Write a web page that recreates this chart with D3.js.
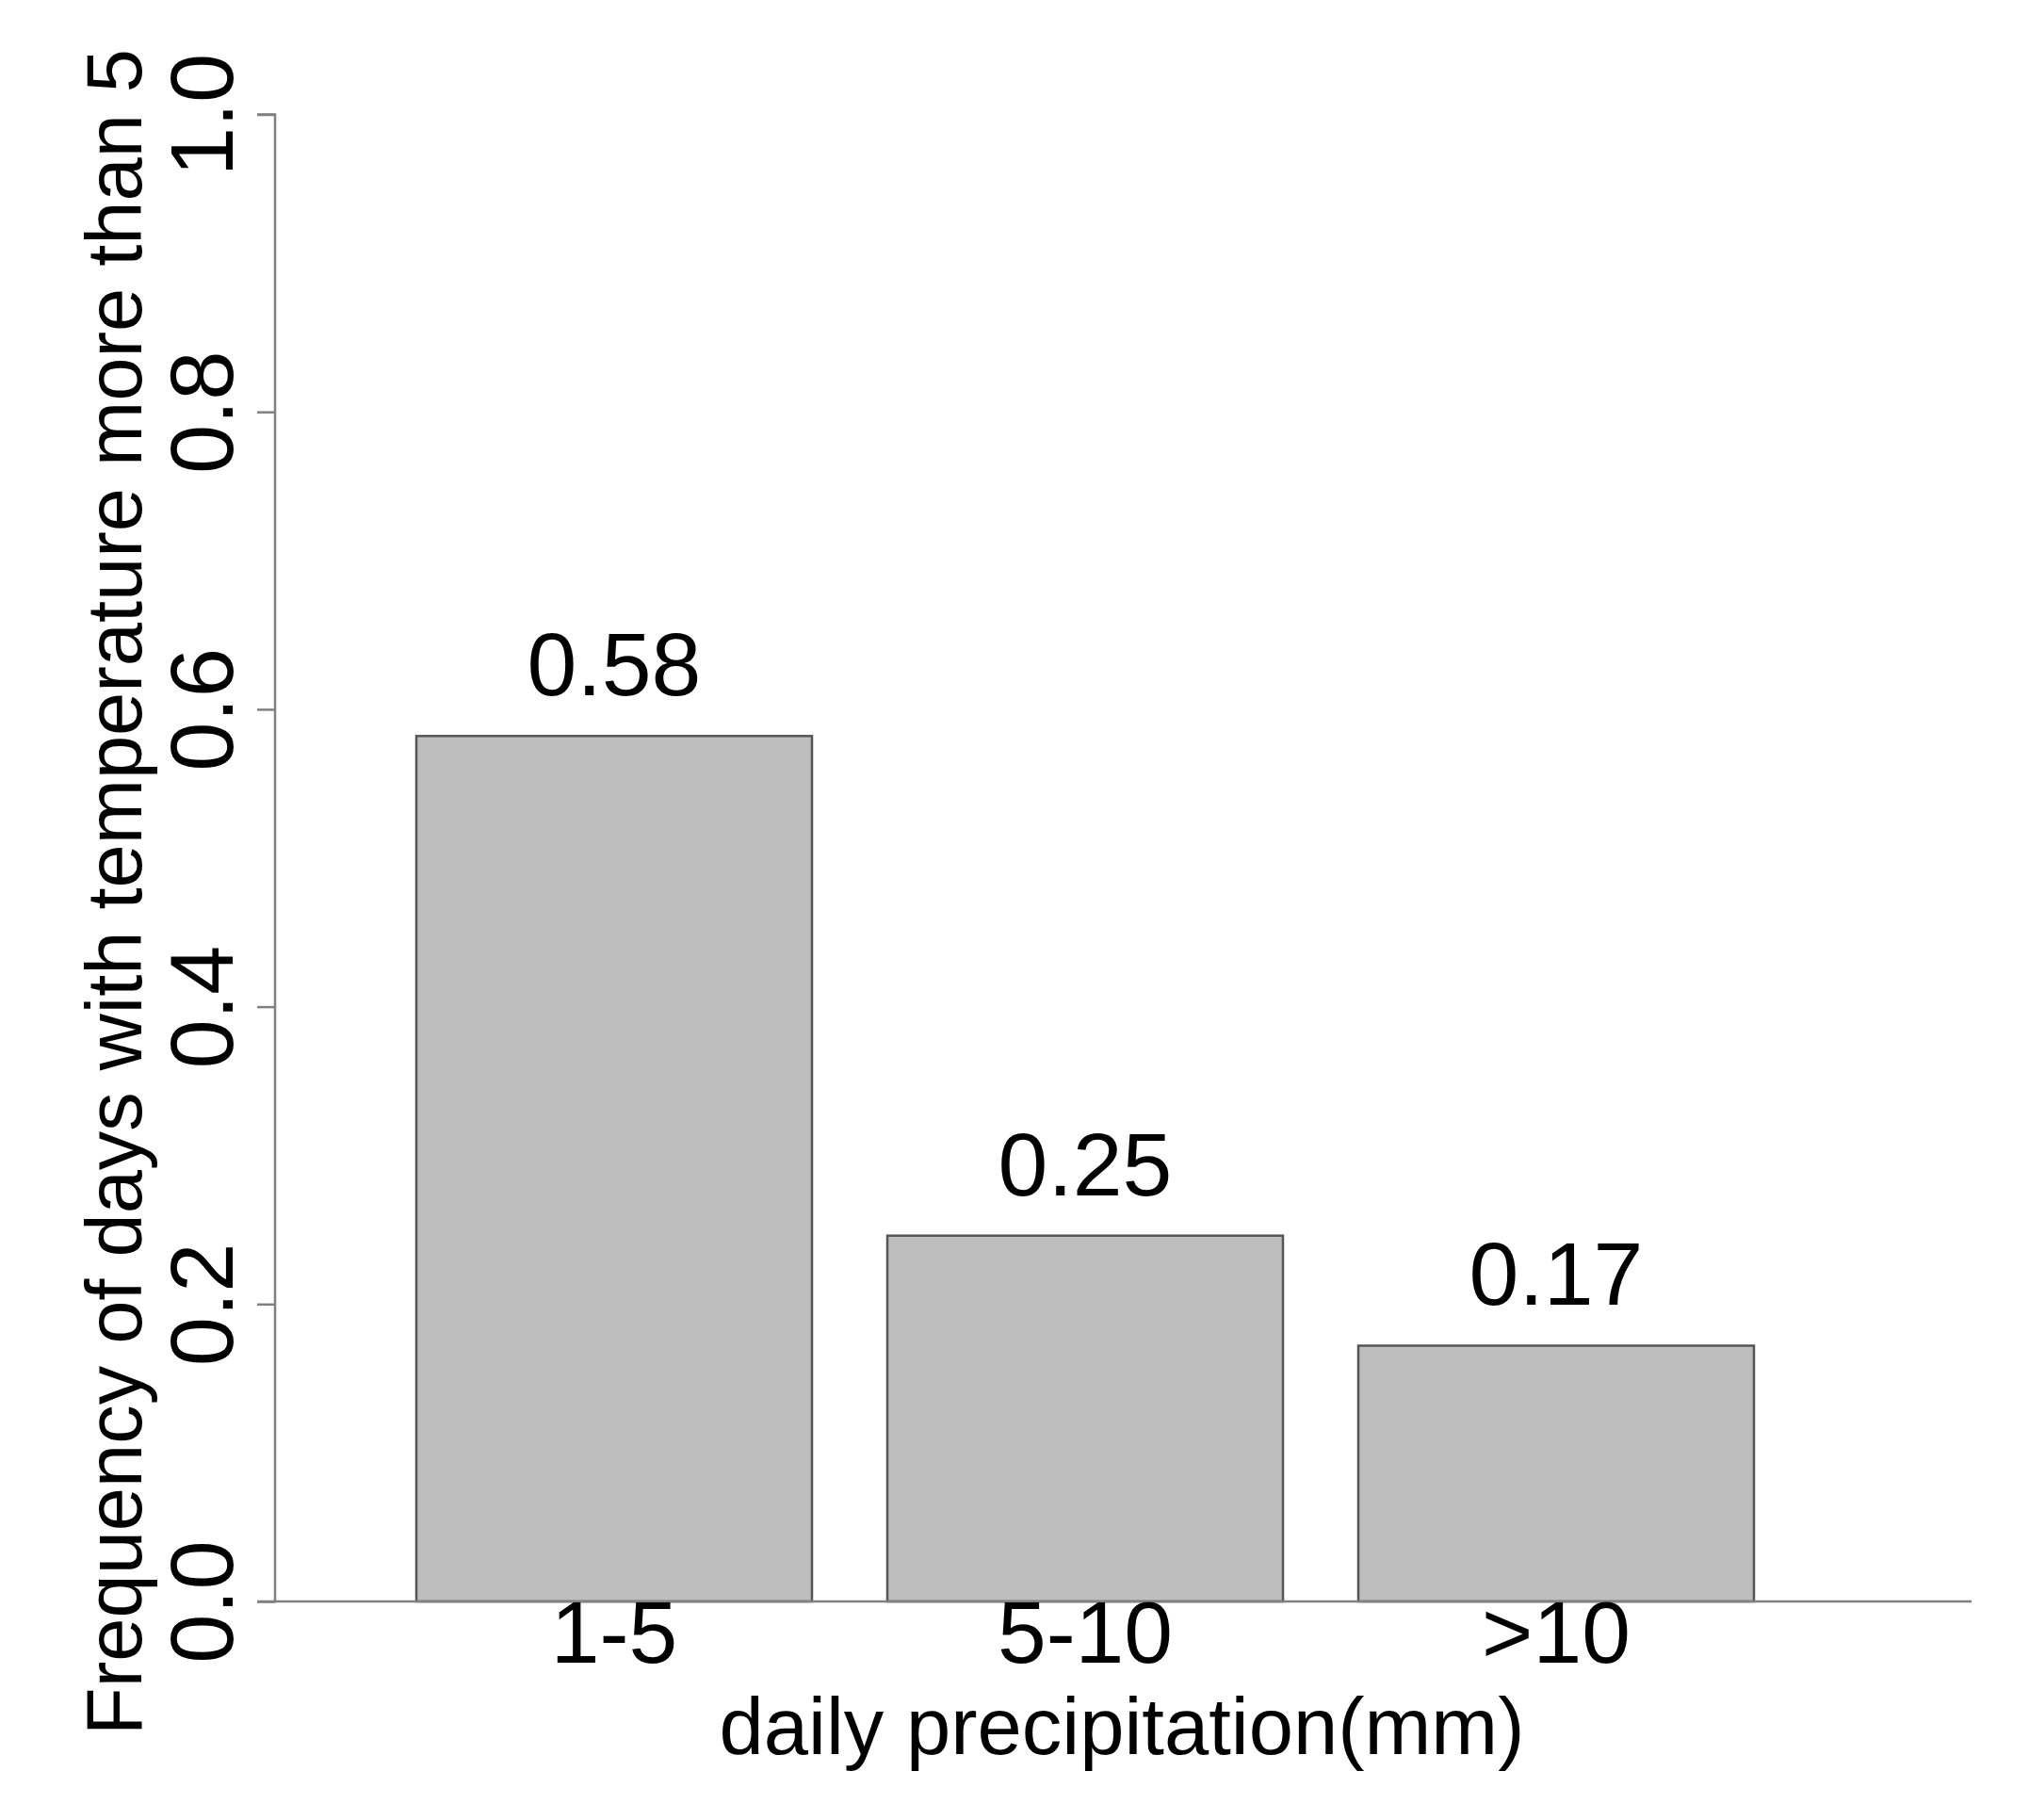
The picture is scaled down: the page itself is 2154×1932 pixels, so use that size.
<!DOCTYPE html>
<html>
<head>
<meta charset="utf-8">
<script src="https://cdn.jsdelivr.net/npm/d3@7"></script>
<style>
html,body{margin:0;padding:0;background:#fff;}
svg{display:block;}
text{font-family:"Liberation Sans",Arial,Helvetica,sans-serif;fill:#000;}
</style>
</head>
<body>
<script>
// data
const categories = ["1-5", "5-10", ">10"];
const values = [0.582, 0.246, 0.172];
const valueLabels = ["0.58", "0.25", "0.17"];
const yTicks = [0.0, 0.2, 0.4, 0.6, 0.8, 1.0];
const yTickLabels = ["0.0", "0.2", "0.4", "0.6", "0.8", "1.0"];
const xTitle = "daily precipitation(mm)";
const yTitle = "Frequency of days with temperature more than 5";

const W = 2154, H = 1932;
const svg = d3.select("body").append("svg").attr("width", W).attr("height", H);

const axisX = 292, y0px = 1700, y1px = 121.5, xEnd = 2093;
const y = d3.scaleLinear().domain([0, 1]).range([y0px, y1px]);
const x = d3.scaleBand().domain(categories).range([442, 1862]).paddingInner(0.16).paddingOuter(0);

// bars
svg.selectAll("rect.bar").data(values).enter().append("rect")
  .attr("class", "bar")
  .attr("x", (d, i) => x(categories[i]))
  .attr("y", d => y(d))
  .attr("width", x.bandwidth())
  .attr("height", d => y(0) - y(d))
  .attr("fill", "#bebebe")
  .attr("stroke", "#555555")
  .attr("stroke-width", 2.5);

// value labels
svg.selectAll("text.val").data(values).enter().append("text")
  .attr("class", "val")
  .attr("x", (d, i) => x(categories[i]) + x.bandwidth() / 2)
  .attr("y", d => y(d) - 43)
  .attr("text-anchor", "middle")
  .attr("font-size", 95)
  .text((d, i) => valueLabels[i]);

// x axis line
svg.append("line").attr("x1", axisX).attr("x2", xEnd).attr("y1", y0px).attr("y2", y0px)
  .attr("stroke", "#808080").attr("stroke-width", 2.5);

// y axis via d3
const yAxis = d3.axisLeft(y).tickValues(yTicks).tickSize(19).tickFormat((d, i) => yTickLabels[i]);
const gy = svg.append("g").attr("transform", `translate(${axisX},0)`).call(yAxis);
gy.select(".domain").attr("stroke", "#808080").attr("stroke-width", 2.5).attr("d", `M-19,${y1px}H0V${y0px}H-19`);
gy.selectAll(".tick line").attr("stroke", "#808080").attr("stroke-width", 2.5);
gy.selectAll(".tick text")
  .attr("font-size", 94)
  .attr("font-family", "Liberation Sans, Arial, sans-serif")
  .attr("fill", "#000")
  .attr("text-anchor", "middle")
  .attr("dy", null)
  .attr("x", null)
  .attr("transform", "translate(-45,0) rotate(-90)")
  .attr("y", 0);

// x category labels
svg.selectAll("text.cat").data(categories).enter().append("text")
  .attr("class", "cat")
  .attr("x", d => x(d) + x.bandwidth() / 2)
  .attr("y", 1765)
  .attr("text-anchor", "middle")
  .attr("font-size", 93)
  .text(d => d);

// axis titles
svg.append("text").attr("x", 1191).attr("y", 1862).attr("text-anchor", "middle")
  .attr("font-size", 85).text(xTitle);
svg.append("text").attr("transform", "translate(150,947) rotate(-90)").attr("text-anchor", "middle")
  .attr("font-size", 83).text(yTitle);
</script>
</body>
</html>
